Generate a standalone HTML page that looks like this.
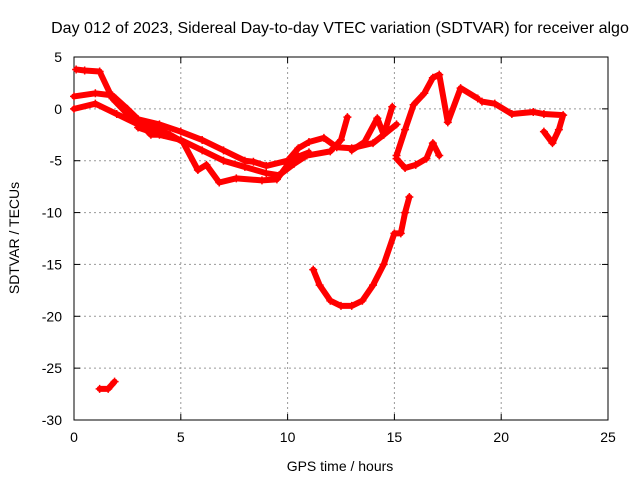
<!DOCTYPE html>
<html><head><meta charset="utf-8"><style>
body{margin:0;background:#fff;}
svg{display:block;font-family:"Liberation Sans",sans-serif;}
</style></head><body>
<svg id="chart" width="640" height="480">
<text x="340" y="33" font-size="16" text-anchor="middle">Day 012 of 2023, Sidereal Day-to-day VTEC variation (SDTVAR) for receiver algo</text>
<g id="grid"></g>
<g id="axes"></g>
<g id="series"></g>
<text x="340" y="471" font-size="14" text-anchor="middle">GPS time / hours</text>
<text transform="translate(19,238) rotate(-90)" font-size="14" text-anchor="middle">SDTVAR / TECUs</text>
</svg>
<script>
const xTicks=[0,5,10,15,20,25];
const yTicks=[5,0,-5,-10,-15,-20,-25,-30];
const trackA=[[0.1,3.8],[0.5,3.7],[1.2,3.6],[1.8,1],[2.5,-0.5],[3,-1.2],[3.6,-2.5],[4.2,-2.5]];
const trackB=[[0,1.2],[1,1.5],[1.8,1.3],[2.5,0],[3,-1],[4,-1.5],[5,-2.2],[6,-3],[7,-4],[8,-5],[8.4,-5.1],[9,-5.5],[10,-5],[10.5,-3.8],[11,-3.2],[11.7,-2.8],[12.3,-3.7],[13,-3.8],[14,-3.3],[14.5,-2.5],[15.1,-1.5]];
const trackC=[[0,0],[1,0.5],[2,-0.5],[3,-1.5],[4,-2],[4.5,-2.5],[5.1,-3.2],[5.8,-5.9],[6.2,-5.4],[6.8,-7.1],[7.6,-6.7],[8.8,-6.9],[9.5,-6.8],[10,-5.4],[10.5,-4.6],[11,-4.2]];
const trackD=[[3,-1.8],[4,-2.5],[5,-3],[6,-4],[7,-5],[8,-5.6],[9,-6.2],[9.6,-6.4],[10.3,-5.3],[10.9,-4.5],[12,-4.1],[12.5,-3],[12.8,-0.8]];
const trackE=[[13,-4],[13.6,-3.2],[14.2,-0.9],[14.5,-2.5],[14.9,0.2]];
const trackF=[[11.2,-15.5],[11.5,-17],[12,-18.5],[12.5,-19],[13,-19],[13.5,-18.5],[14,-17],[14.5,-15],[15,-12],[15.3,-12],[15.5,-10],[15.7,-8.5]];
const trackG=[[1.2,-27],[1.6,-27],[1.9,-26.3]];
const trackH=[[15.1,-4.5],[15.5,-2],[15.9,0.4],[16.4,1.5],[16.8,3],[17.1,3.3],[17.5,-1.3],[18.1,2],[18.9,1]];
const trackI=[[19.1,0.7],[19.7,0.5],[20.5,-0.5],[21.5,-0.3],[22,-0.5],[22.9,-0.6],[22.7,-2],[22.4,-3.3],[22,-2.2]];
const trackJ=[[15.1,-4.8],[15.5,-5.7],[16,-5.4],[16.5,-4.8],[16.8,-3.3],[17.1,-4.5]];
const tracks=[trackA,trackB,trackC,trackD,trackE,trackF,trackG,trackH,trackI,trackJ];
const X0=74,X1=608,Y0=57,Y1=420;
const xs=v=>X0+(v-0)/(25-0)*(X1-X0);
const ys=v=>Y0+(5-v)/(5-(-30))*(Y1-Y0);
const NS="http://www.w3.org/2000/svg";
function mk(t,a,p){const e=document.createElementNS(NS,t);for(const k in a)e.setAttribute(k,a[k]);p.appendChild(e);return e;}
const grid=document.getElementById('grid'),axes=document.getElementById('axes'),ser=document.getElementById('series');
xTicks.forEach(t=>{
 if(t>0&&t<25){const g=mk('line',{x1:xs(t),x2:xs(t),y1:Y0,y2:Y1,stroke:'#999','stroke-dasharray':'2,3','stroke-width':1},grid);
 
 }
 const l=mk('text',{x:xs(t),y:Y1+22,'font-size':14,'text-anchor':'middle'},axes);l.textContent=t;
 
 
 mk('line',{x1:xs(t),x2:xs(t),y1:Y1,y2:Y1-6,stroke:'#000'},axes);
 mk('line',{x1:xs(t),x2:xs(t),y1:Y0,y2:Y0+6,stroke:'#000'},axes);
});
yTicks.forEach(t=>{
 if(t<5&&t>-30){const g=mk('line',{x1:X0,x2:X1,y1:ys(t),y2:ys(t),stroke:'#999','stroke-dasharray':'2,3','stroke-width':1},grid);
 
 }
 const l=mk('text',{x:X0-12,y:ys(t)+5,'font-size':14,'text-anchor':'end'},axes);l.textContent=t;
 
 
 mk('line',{x1:X0,x2:X0+6,y1:ys(t),y2:ys(t),stroke:'#000'},axes);
 mk('line',{x1:X1,x2:X1-6,y1:ys(t),y2:ys(t),stroke:'#000'},axes);
});
mk('rect',{x:X0,y:Y0,width:X1-X0,height:Y1-Y0,fill:'none',stroke:'#000'},axes);
tracks.forEach((tr,i)=>{
 const p=mk('polyline',{points:tr.map(d=>xs(d[0])+','+ys(d[1])).join(' '),fill:'none',stroke:'#f00','stroke-width':6,'stroke-linejoin':'round','stroke-linecap':'round'},ser);
 
 
 tr.forEach(d=>{
  const m=mk('path',{d:`M${xs(d[0])-4},${ys(d[1])}h8M${xs(d[0])},${ys(d[1])-4}v8`,stroke:'#f00','stroke-width':1.5},ser);
  
  
 });
});
</script>
</body></html>
